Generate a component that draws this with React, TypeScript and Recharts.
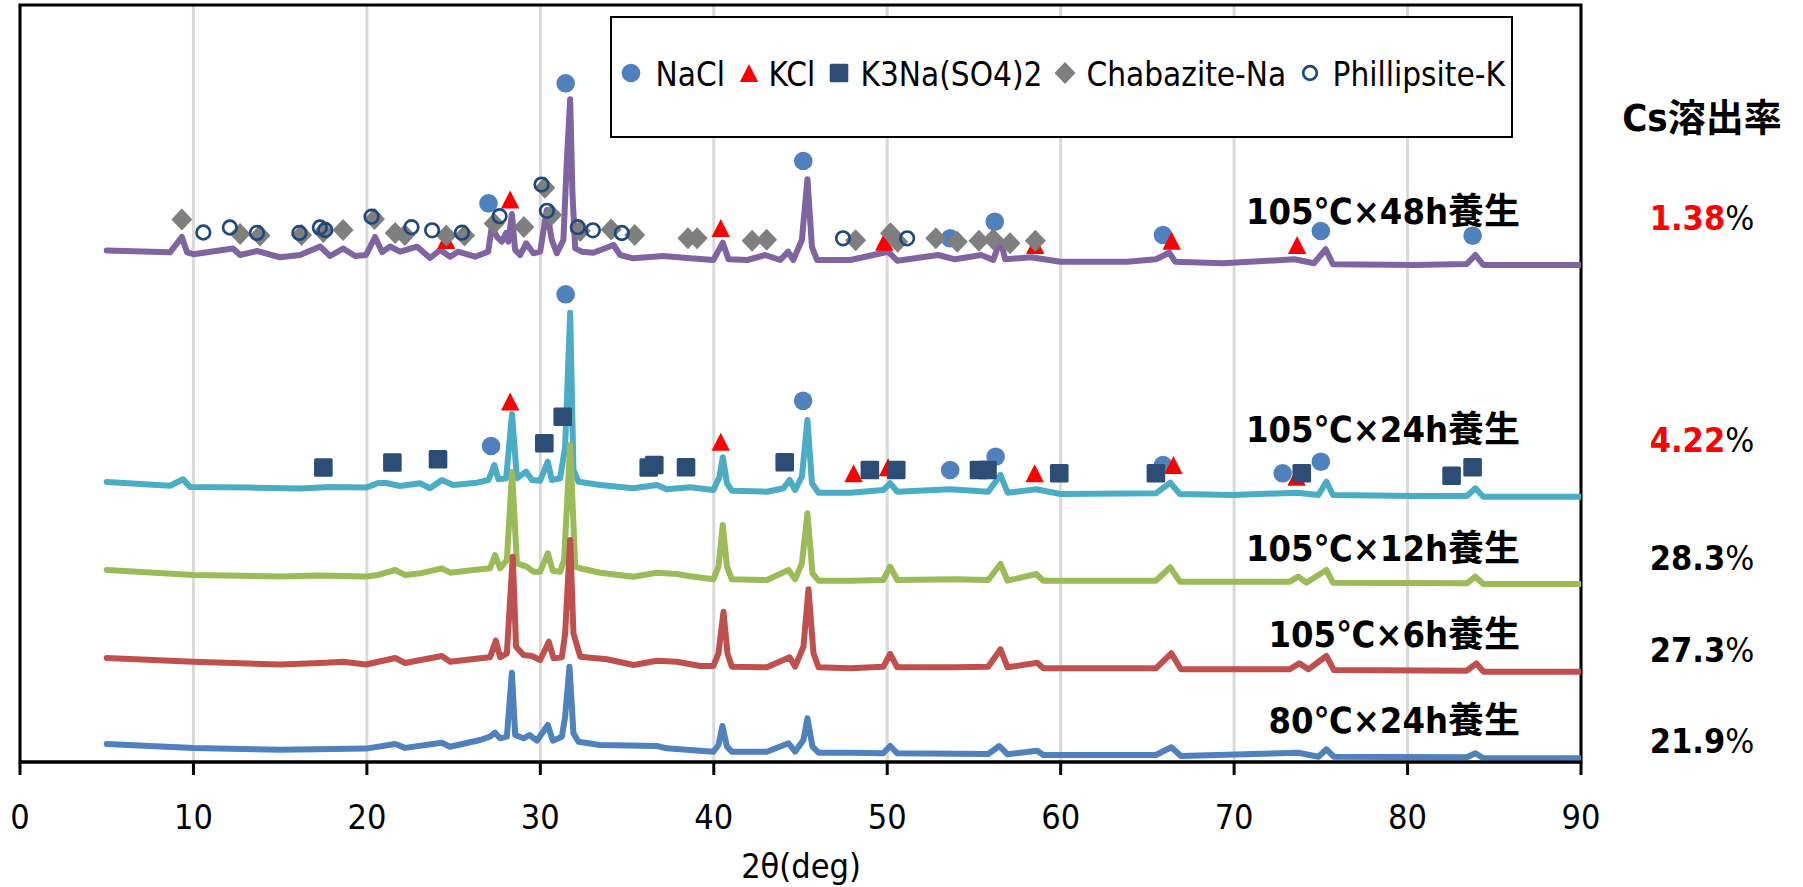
import React from 'react';
import { ComposedChart, Line, Scatter, XAxis, YAxis, CartesianGrid, ReferenceArea, Legend } from 'recharts';

type P = [number, number];

// x: 2θ (deg), y: stacked intensity (arbitrary units, offset per pattern)
const X_TICKS = [0, 10, 20, 30, 40, 50, 60, 70, 80, 90];
const Y_MAX = 757;

const TRACE_105C_48H: P[] = [[5.0,511.6],[8.65,509.7],[9.33,525],[9.63,509.7],[10.0,507.8],[12.28,513.5],[12.69,507],[13.67,511],[14.99,504.7],[16.15,507],[17.3,515.5],[17.88,506],[18.63,513.5],[19.32,506],[19.95,507],[20.47,525],[20.88,510],[21.34,515.5],[21.91,510.3],[22.9,515.3],[23.64,504],[24.22,512],[24.8,505.3],[25.26,510.3],[26.24,505.3],[26.99,510.3],[27.2,535.3],[27.49,525.3],[27.78,520.3],[28.03,529],[28.16,520.3],[28.36,548],[28.55,512],[28.84,507],[29.18,518.7],[29.6,508.7],[29.99,510.3],[30.37,552],[30.66,522],[30.95,508.7],[31.33,522],[31.53,602],[31.72,662.7],[31.85,569],[32.01,513.7],[32.39,510.3],[33.06,509.3],[34.22,517],[34.6,507],[35.35,503.7],[37.08,506],[38.64,503.7],[39.98,502],[40.52,519.3],[40.85,502.7],[41.93,502],[42.96,507],[43.83,502],[44.29,510.3],[44.58,502],[45.08,522],[45.4,582.7],[45.66,515.3],[45.95,502],[47.87,502],[50.05,510.3],[50.58,501.3],[52.94,507],[53.91,502.7],[55.42,507],[56.11,502],[56.53,522],[56.8,502.7],[58.3,504.7],[59.98,500.3],[63.84,500.3],[65.49,502.7],[66.26,509.3],[66.6,500.3],[69.35,498.7],[73.47,502.7],[74.6,498.7],[75.28,512.7],[75.7,497.7],[80.39,497],[83.42,498],[83.91,507],[84.37,497],[90,497]];

const TRACE_105C_24H: P[] = [[5.0,280.1],[8.65,276.3],[9.4,282.8],[9.8,275.1],[13.26,274.4],[16.15,273.6],[17.88,275.1],[19.95,274.4],[20.65,279],[21.1,279],[21.91,276],[23.07,278.7],[23.64,273.7],[24.32,282],[24.97,277],[26.34,279.3],[27.01,282],[27.35,297],[27.58,282.7],[28.03,283.7],[28.37,348],[28.65,283.7],[29.18,290.3],[29.51,282],[29.99,281.3],[30.43,300.3],[30.66,282],[31.14,283.7],[31.43,315.3],[31.72,449.3],[31.91,292],[32.2,280.3],[33.45,277],[35.35,273.7],[36.72,277],[37.29,272.7],[38.64,274.7],[39.98,272],[40.33,285.3],[40.52,304.7],[40.76,278.7],[41.04,271.3],[43.06,270.3],[44.02,273.7],[44.37,282],[44.69,272],[45.08,285.3],[45.4,342],[45.66,278.7],[46.04,269.3],[47.87,269.3],[49.77,272],[50.17,278.7],[50.58,270.3],[53.63,272.7],[55.82,270.3],[56.53,287],[56.94,269.3],[58.59,272.7],[59.98,268],[65.49,268.7],[66.32,279.3],[66.87,268],[69.9,267],[73.63,269.3],[74.86,267],[75.32,280.3],[75.7,267],[80.39,266],[83.42,266],[83.91,273.7],[84.37,265.3],[90,265.3]];

const TRACE_105C_12H: P[] = [[5.0,192.1],[10.0,187.1],[15.0,185.6],[17.3,186.4],[19.95,185.6],[20.65,187.1],[21.63,192],[22.2,187.1],[23.07,188.7],[24.32,193.7],[24.8,189.3],[26.53,192.7],[27.1,193.7],[27.39,207],[27.68,193.7],[28.07,202],[28.37,290],[28.65,198.7],[29.22,195.3],[29.6,190.3],[29.99,190.3],[30.43,208.7],[30.72,191.3],[31.14,190.3],[31.37,202],[31.72,317],[32.01,195.3],[32.3,193.7],[33.45,189.3],[35.35,185.3],[36.72,189.3],[37.87,188],[38.54,186],[39.98,182.7],[40.27,195.3],[40.52,237],[40.76,195.3],[41.04,182.7],[43.06,182],[44.31,192],[44.69,182.7],[45.08,198.7],[45.4,248.7],[45.69,188.7],[46.04,181.3],[47.87,181.3],[49.77,182],[50.17,195.3],[50.58,182],[53.91,182.7],[55.82,182],[56.53,198],[56.94,181.3],[58.59,188],[59.0,181.3],[65.49,181.3],[66.32,194.7],[66.87,180.3],[73.21,180.3],[73.7,185.3],[74.16,179.3],[75.32,192],[75.7,179.3],[83.42,178.7],[83.91,185.3],[84.37,178],[90,178]];

const TRACE_105C_6H: P[] = [[5.0,104],[10.0,100.2],[15.0,97.5],[17.3,99],[18.63,100.2],[19.95,97.5],[21.63,104],[22.2,99],[24.32,106],[24.8,100.3],[26.53,103.7],[27.1,104.7],[27.43,121.3],[27.68,104.7],[28.07,108.7],[28.41,205.3],[28.6,115.3],[29.03,107],[29.51,106],[29.99,102],[30.49,120.3],[30.76,103.7],[31.24,104.7],[31.43,128.7],[31.72,222],[31.91,128.7],[32.3,105.3],[33.83,102.7],[35.37,97],[36.72,101.3],[37.87,100.3],[39.22,96],[39.98,96],[40.27,108.7],[40.56,150.3],[40.79,108.7],[41.04,95.3],[43.06,94.7],[44.37,104.7],[44.69,95.3],[45.17,115.3],[45.46,172.7],[45.75,108.7],[46.04,94.7],[47.87,93.7],[49.77,95.3],[50.17,108],[50.58,94.7],[53.91,94.7],[55.82,95.3],[56.53,112.7],[56.94,94.7],[58.65,99.3],[59.0,93.7],[65.49,93.7],[66.38,108.7],[66.93,92.7],[73.21,92.7],[73.76,98.7],[74.28,92.7],[75.32,106],[75.75,92],[83.42,91.3],[83.97,98.7],[84.37,90.3],[90,90.3]];

const TRACE_80C_24H: P[] = [[5.0,18],[10.0,14.1],[15.0,12.2],[19.95,13.4],[21.63,18],[22.2,14.1],[24.32,19.3],[24.8,15.3],[26.53,22],[27.1,25.3],[27.39,29.3],[27.68,23.7],[28.07,25.3],[28.36,89.3],[28.55,27],[29.03,23.7],[29.37,27],[29.8,21.3],[30.43,37],[30.72,21.3],[31.24,25.3],[31.43,45.3],[31.68,95.3],[31.91,28.7],[32.2,20.3],[33.45,17],[36.72,16],[37.29,13.7],[39.98,10.3],[40.27,17],[40.5,36],[40.76,15.3],[41.04,10.3],[43.06,10.3],[44.31,18.7],[44.69,10.3],[45.17,22],[45.4,43.7],[45.69,15.3],[46.04,9.3],[47.87,9.3],[49.77,8.7],[50.17,16],[50.58,8.7],[55.82,8],[56.46,16],[56.94,7.7],[58.65,11.3],[59.0,7],[65.49,7],[66.38,14.7],[66.93,6],[73.7,9.3],[74.86,5.3],[75.32,12.7],[75.75,5.3],[83.42,4.7],[83.91,8.7],[84.37,3.7],[90,3.7]];

// phase identification markers
const NACL_48H: P[] = [[27.01,558.7],[31.46,678.7],[45.16,601],[53.63,523.7],[56.2,540.3],[65.9,527],[75.0,531],[83.75,526.3]];
const NACL_24H: P[] = [[27.16,316],[31.46,467.7],[45.15,361.2],[53.63,292],[56.25,305.3],[65.9,297],[72.8,288.7],[75.0,300.3]];
const KCL_48H: P[] = [[24.57,522],[28.26,562.5],[40.4,534],[49.83,520.3],[58.53,517],[66.4,521.3],[73.63,517]];
const KCL_24H: P[] = [[28.26,360.5],[40.4,320.3],[48.06,288.7],[50.05,294.7],[58.5,288.7],[66.5,297],[73.6,285.3]];
const K3NA_24H: P[] = [[17.49,294.5],[21.47,299.5],[24.1,302.7],[30.23,318.7],[31.29,345.3],[36.25,294.5],[36.57,297],[38.4,294.7],[44.09,299.7],[49.0,292],[50.52,292],[55.29,292],[55.78,292],[59.92,288.7],[65.49,288.7],[73.9,288.7],[82.54,286.3],[83.75,294.7]];
const CHABAZITE_48H: P[] = [[9.33,542.5],[12.69,528],[13.84,526.5],[16.23,527],[17.49,530],[18.63,532],[20.44,543],[21.63,529],[22.19,527],[24.58,526.5],[25.63,526.5],[27.34,538.5],[29.05,535],[30.26,574.2],[30.65,547],[32.3,531],[34.08,532.5],[35.44,527],[38.51,523.7],[39.04,523.7],[42.21,521.3],[43.05,522.3],[48.18,521.7],[50.19,528.7],[50.6,520.3],[52.8,523.7],[54.04,520.3],[55.29,521.3],[56.11,522.7],[57.08,518.7],[58.54,521.3]];
const PHILLIPSITE_48H: P[] = [[10.57,529.5],[12.1,534.5],[13.66,529.1],[16.11,529.1],[17.29,534.5],[17.6,532],[20.27,545.3],[22.57,534.8],[23.76,531.7],[25.48,529.3],[27.65,545.8],[30.07,577.4],[30.38,551.2],[32.16,534.8],[33.03,531.7],[34.7,529],[47.45,523.7],[51.15,523.7]];

const CONDITION_LABELS = ['105℃×48h養生', '105℃×24h養生', '105℃×12h養生', '105℃×6h養生', '80℃×24h養生'];
const CS_RATES = ['1.38', '4.22', '28.3', '27.3', '21.9'];
const RATE_HIGHLIGHT = [true, true, false, false, false];
const RATE_TITLE = 'Cs溶出率';
const X_TITLE = '2θ(deg)';

const pts = (a: P[]) => a.map(([x, y]) => ({ x, y }));

const LATIN = "'DejaVu Sans Condensed', 'Liberation Sans Narrow', sans-serif";
const JP = "'DejaVu Sans Condensed', 'Noto Sans CJK JP', sans-serif";

const C_NACL = '#4F81BD';
const C_KCL = '#FF0000';
const C_K3NA = '#2C4D75';
const C_CHA = '#7F7F7F';
const C_PHI = '#1F497D';

const NaClShape = (p: any) => <circle cx={p.cx} cy={p.cy} r={9.3} fill={C_NACL} />;
const KClShape = (p: any) => (
  <polygon points={`${p.cx},${p.cy - 9} ${p.cx + 9.2},${p.cy + 9} ${p.cx - 9.2},${p.cy + 9}`} fill={C_KCL} />
);
const K3NaShape = (p: any) => (
  <rect x={p.cx - 9.3} y={p.cy - 9.3} width={18.6} height={18.6} rx={1.5} fill={C_K3NA} />
);
const ChaShape = (p: any) => (
  <polygon points={`${p.cx},${p.cy - 11} ${p.cx + 10.5},${p.cy} ${p.cx},${p.cy + 11} ${p.cx - 10.5},${p.cy}`} fill={C_CHA} />
);
const PhiShape = (p: any) => (
  <circle cx={p.cx} cy={p.cy} r={6.8} fill="none" stroke={C_PHI} strokeWidth={2.7} />
);

const MARKER_SERIES = [
  { name: 'NaCl', data: [...NACL_48H, ...NACL_24H], shape: NaClShape },
  { name: 'KCl', data: [...KCL_48H, ...KCL_24H], shape: KClShape },
  { name: 'K3Na(SO4)2', data: K3NA_24H, shape: K3NaShape },
  { name: 'Chabazite-Na', data: CHABAZITE_48H, shape: ChaShape },
  { name: 'Phillipsite-K', data: PHILLIPSITE_48H, shape: PhiShape },
];

const TRACE_SERIES = [
  { name: '105℃×48h', data: TRACE_105C_48H, color: '#8064A2' },
  { name: '105℃×24h', data: TRACE_105C_24H, color: '#4BACC6' },
  { name: '105℃×12h', data: TRACE_105C_12H, color: '#9BBB59' },
  { name: '105℃×6h', data: TRACE_105C_6H, color: '#C0504D' },
  { name: '80℃×24h', data: TRACE_80C_24H, color: '#4F81BD' },
];

// layout
const LEGEND_ICON_X = [21.5, 139, 229, 455, 700];
const LEGEND_TEXT_X = [46, 159, 251, 477, 723];
const LABEL_BASELINES = [224, 442, 561, 647, 733];
const RATE_BASELINES = [230, 452, 570, 662, 753];

const LegendBox = () => (
  <div style={{ position: 'relative', width: 903, height: 122, border: '2.5px solid #000', boxSizing: 'border-box', background: '#fff' }}>
    {MARKER_SERIES.map((s, i) => (
      <React.Fragment key={s.name}>
        <svg width={26} height={26} style={{ position: 'absolute', left: LEGEND_ICON_X[i] - 13 - 2.5, top: 57 - 13 - 2.5 }}>
          {s.shape({ cx: 13, cy: 13 })}
        </svg>
        <span style={{ position: 'absolute', left: LEGEND_TEXT_X[i] - 2.5, top: 59.5 - 20 - 2.5, height: 40, lineHeight: '40px', fontSize: 33, fontFamily: LATIN, color: '#000', whiteSpace: 'nowrap' }}>
          {s.name}
        </span>
      </React.Fragment>
    ))}
  </div>
);

export default function App() {
  return (
    <div style={{ position: 'absolute', left: 0, top: 0, width: 1803, height: 887, background: '#fff', overflow: 'hidden' }}>
      <ComposedChart width={1803} height={887} margin={{ top: 5, right: 222, left: 20, bottom: 65 }}>
        <CartesianGrid vertical horizontal={false} stroke="#D9D9D9" strokeWidth={3} />
        <XAxis
          type="number"
          dataKey="x"
          domain={[0, 90]}
          ticks={X_TICKS}
          interval={0}
          height={60}
          allowDataOverflow
          axisLine={{ stroke: '#000', strokeWidth: 3 }}
          tickLine={{ stroke: '#000', strokeWidth: 3 }}
          tickSize={13}
          tickMargin={30}
          tick={{ fill: '#000', fontSize: 34, fontFamily: LATIN }}
        />
        <YAxis type="number" dataKey="y" domain={[0, Y_MAX]} hide allowDataOverflow />
        <ReferenceArea x1={0} x2={90} y1={0} y2={Y_MAX} fill="none" fillOpacity={0} stroke="#000" strokeWidth={3} />
        {MARKER_SERIES.map((s) => (
          <Scatter key={s.name} name={s.name} data={pts(s.data)} shape={s.shape} isAnimationActive={false} />
        ))}
        {TRACE_SERIES.map((s) => (
          <Line
            key={s.name}
            name={s.name}
            data={pts(s.data)}
            dataKey="y"
            type="linear"
            stroke={s.color}
            strokeWidth={6}
            strokeLinejoin="round"
            strokeLinecap="round"
            dot={false}
            activeDot={false}
            legendType="none"
            isAnimationActive={false}
          />
        ))}
        <Legend
          layout="horizontal"
          verticalAlign="middle"
          align="center"
          content={() => <LegendBox />}
          wrapperStyle={{ position: 'absolute', left: 610, top: 16, width: 903, height: 122 }}
        />
      </ComposedChart>
      <svg width={1803} height={887} style={{ position: 'absolute', left: 0, top: 0, pointerEvents: 'none' }}>
        {CONDITION_LABELS.map((t, i) => (
          <text key={t} x={1520} y={LABEL_BASELINES[i]} textAnchor="end" fontSize={36} fontWeight="bold" fontFamily={JP} fill="#000">
            {t}
          </text>
        ))}
        <text x={1702} y={131} textAnchor="middle" fontSize={38} fontWeight="bold" fontFamily={JP} fill="#000">
          {RATE_TITLE}
        </text>
        {CS_RATES.map((r, i) => (
          <text key={r} x={1702} y={RATE_BASELINES[i]} textAnchor="middle" fontSize={34} fontFamily={LATIN}>
            <tspan fontWeight="bold" fill={RATE_HIGHLIGHT[i] ? '#FF0000' : '#000'}>{r}</tspan>
            <tspan fill="#000">%</tspan>
          </text>
        ))}
        <text x={801} y={878} textAnchor="middle" fontSize={34} fontFamily={LATIN} fill="#000">
          {X_TITLE}
        </text>
      </svg>
    </div>
  );
}
